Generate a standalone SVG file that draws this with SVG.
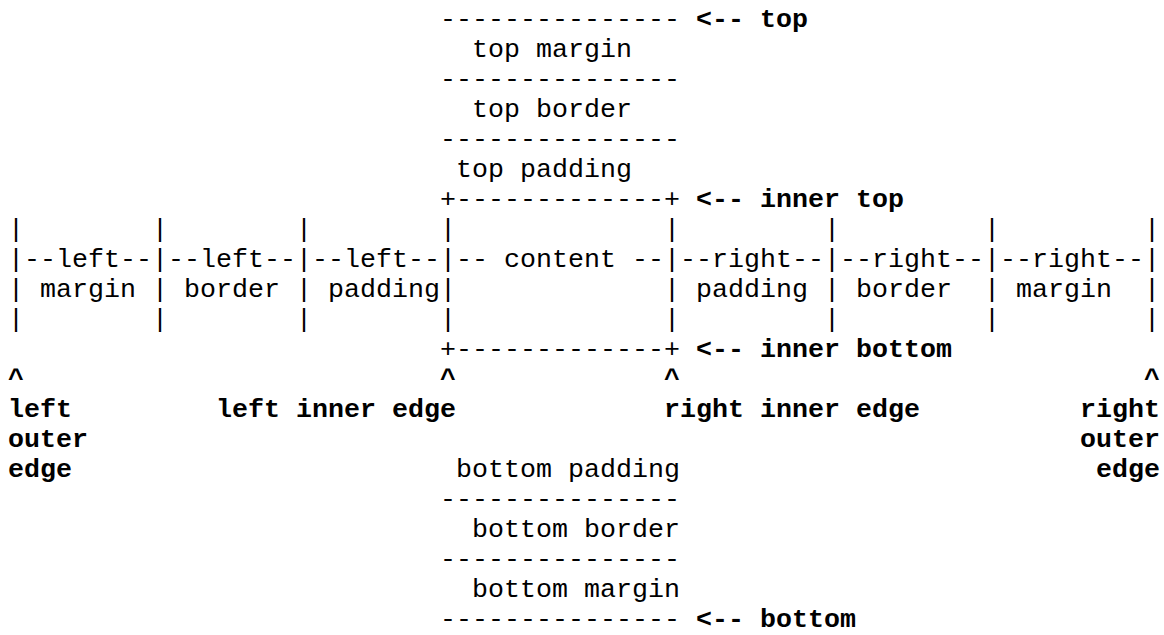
<svg xmlns="http://www.w3.org/2000/svg" width="1164" height="635" viewBox="0 0 1164 635" xml:space="preserve">
<style>
text{font-family:"Liberation Mono","Courier New",monospace;font-size:26.667px;fill:#000;white-space:pre}
.b{font-weight:bold}
</style>
<rect width="1164" height="635" fill="#fff"/>
<g id="top-stack">
<text x="440" y="27">---------------</text>
<text class="b" x="696" y="27">&lt;-- top</text>
<text x="472" y="57">top margin</text>
<text x="440" y="87">---------------</text>
<text x="472" y="117">top border</text>
<text x="440" y="147">---------------</text>
<text x="456" y="177">top padding</text>
<text x="440" y="207">+-------------+</text>
<text class="b" x="696" y="207">&lt;-- inner top</text>
</g>
<g id="left-margin">
<text x="8" y="237">|</text>
<text x="8" y="267">|--left--</text>
<text x="8" y="297">|</text>
<text x="40" y="297">margin</text>
<text x="8" y="327">|</text>
</g>
<g id="left-border">
<text x="152" y="237">|</text>
<text x="152" y="267">|--left--</text>
<text x="152" y="297">|</text>
<text x="184" y="297">border</text>
<text x="152" y="327">|</text>
</g>
<g id="left-padding">
<text x="296" y="237">|</text>
<text x="296" y="267">|--left--</text>
<text x="296" y="297">|</text>
<text x="328" y="297">padding</text>
<text x="296" y="327">|</text>
</g>
<g id="content">
<text x="440" y="237">|</text>
<text x="440" y="267">|-- content --</text>
<text x="440" y="297">|</text>
<text x="440" y="327">|</text>
</g>
<g id="right-padding">
<text x="664" y="237">|</text>
<text x="664" y="267">|--right--</text>
<text x="664" y="297">|</text>
<text x="696" y="297">padding</text>
<text x="664" y="327">|</text>
</g>
<g id="right-border">
<text x="824" y="237">|</text>
<text x="824" y="267">|--right--</text>
<text x="824" y="297">|</text>
<text x="856" y="297">border</text>
<text x="824" y="327">|</text>
</g>
<g id="right-margin">
<text x="984" y="237">|</text>
<text x="984" y="267">|--right--|</text>
<text x="984" y="297">|</text>
<text x="1016" y="297">margin</text>
<text x="984" y="327">|</text>
<text x="1144" y="237">|</text>
<text x="1144" y="297">|</text>
<text x="1144" y="327">|</text>
</g>
<g id="inner-bottom">
<text x="440" y="357">+-------------+</text>
<text class="b" x="696" y="357">&lt;-- inner bottom</text>
</g>
<g id="edge-markers">
<text class="b" x="8" y="387">^</text>
<text class="b" x="440" y="387">^</text>
<text class="b" x="664" y="387">^</text>
<text class="b" x="1144" y="387">^</text>
<text class="b" x="8" y="417">left</text>
<text class="b" x="8" y="447">outer</text>
<text class="b" x="8" y="477">edge</text>
<text class="b" x="216" y="417">left inner edge</text>
<text class="b" x="664" y="417">right inner edge</text>
<text class="b" x="1080" y="417">right</text>
<text class="b" x="1080" y="447">outer</text>
<text class="b" x="1096" y="477">edge</text>
</g>
<g id="bottom-stack">
<text x="456" y="477">bottom padding</text>
<text x="440" y="507">---------------</text>
<text x="472" y="537">bottom border</text>
<text x="440" y="567">---------------</text>
<text x="472" y="597">bottom margin</text>
<text x="440" y="627">---------------</text>
<text class="b" x="696" y="627">&lt;-- bottom</text>
</g>
</svg>
